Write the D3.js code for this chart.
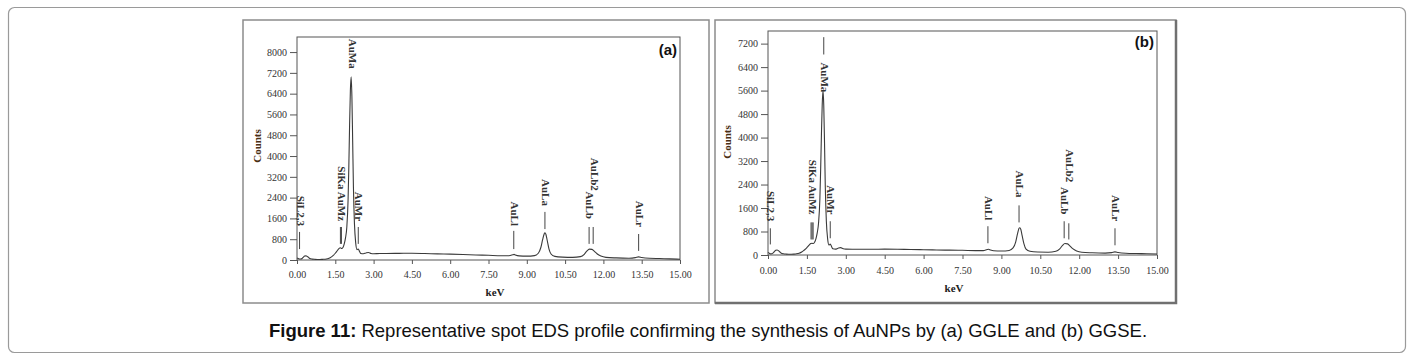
<!DOCTYPE html>
<html lang="en">
<head>
<meta charset="utf-8">
<title>EDS profile</title>
<script src="https://cdn.jsdelivr.net/npm/d3@7"></script>
<style>
  body { margin: 0; background: #fff; }
</style>
</head>
<body>
<script>

// energy axis shared by both spectra (keV)
var energy = [0.00, 0.05, 0.10, 0.15, 0.20, 0.25, 0.30, 0.35, 0.40, 0.45, 0.50, 0.60, 0.70, 0.80, 0.90,
    1.00, 1.10, 1.20, 1.30, 1.40, 1.50, 1.55, 1.60, 1.65, 1.70, 1.75, 1.80, 1.85, 1.90, 1.95,
    2.00, 2.03, 2.06, 2.09, 2.12, 2.15, 2.18, 2.21, 2.25, 2.30, 2.35, 2.40, 2.45, 2.50, 2.60,
    2.70, 2.80, 2.90, 3.00, 3.25, 3.50, 4.00, 4.50, 5.00, 5.50, 6.00, 6.50, 7.00, 7.50, 8.00,
    8.30, 8.45, 8.50, 8.55, 8.70, 9.00, 9.30, 9.45, 9.55, 9.62, 9.68, 9.71, 9.75, 9.80, 9.87,
    9.95, 10.10, 10.40, 10.80, 11.10, 11.25, 11.35, 11.45, 11.55, 11.65, 11.75, 11.90, 12.10, 12.50,
    13.00, 13.25, 13.38, 13.50, 13.80, 14.20, 14.60, 15.00];

// (a) GGLE
var countsGGLE = [80, 60, 40, 40, 60, 110, 150, 160, 140, 100, 60, 35, 25, 20, 20,
    25, 30, 50, 90, 160, 260, 320, 390, 450, 470, 440, 480, 620, 850, 1250,
    2300, 3600, 5200, 6500, 7050, 6300, 4600, 2800, 1400, 650, 400, 420, 330, 250, 240,
    270, 290, 250, 240, 250, 250, 255, 260, 250, 235, 225, 210, 195, 180, 165,
    165, 200, 215, 195, 160, 150, 170, 260, 480, 780, 1000, 1050, 980, 750, 420,
    230, 140, 110, 100, 130, 220, 340, 420, 410, 330, 240, 150, 100, 80,
    70, 90, 120, 95, 65, 55, 45, 30];

// (b) GGSE
var countsGGSE = [90, 60, 40, 45, 70, 120, 160, 170, 150, 110, 70, 40, 30, 25, 25,
    30, 40, 60, 100, 170, 250, 300, 350, 390, 400, 390, 440, 560, 760, 1100,
    1900, 2900, 4100, 5100, 5600, 5100, 3800, 2300, 1150, 550, 340, 370, 290, 210, 200,
    230, 250, 215, 200, 195, 195, 195, 200, 195, 185, 180, 170, 165, 160, 150,
    150, 185, 195, 180, 145, 135, 155, 240, 440, 720, 910, 930, 870, 660, 380,
    200, 125, 100, 95, 125, 210, 320, 390, 380, 300, 215, 140, 95, 75,
    65, 80, 105, 85, 60, 50, 45, 35];

var xTicks = [0, 1.5, 3, 4.5, 6, 7.5, 9, 10.5, 12, 13.5, 15];
var yTicksGGLE = [0, 800, 1600, 2400, 3200, 4000, 4800, 5600, 6400, 7200, 8000];
var yTicksGGSE = [0, 800, 1600, 2400, 3200, 4000, 4800, 5600, 6400, 7200];

// peak labels: [text, keV, label end (counts), marker keVs, marker top, marker bottom]
var peaksGGLE = [
    ["SiL2,3", 0.10, 1310, [0.10], 1080, 420],
    ["SiKa AuMz", 1.72, 1500, [1.70, 1.74], 1270, 620],
    ["AuMa", 2.14, 7360, [], 0, 0],
    ["AuMr", 2.40, 1500, [2.40], 1270, 620],
    ["AuLl", 8.49, 1310, [8.49], 1120, 420],
    ["AuLa", 9.71, 2080, [9.71], 1850, 1190],
    ["AuLb", 11.44, 1580, [11.44], 1270, 620],
    ["AuLb2", 11.64, 2660, [11.60], 1270, 620],
    ["AuLr", 13.38, 1270, [13.38], 1000, 350]
];
var peaksGGSE = [
    ["SiL2,3", 0.09, 1150, [0.09], 910, 360],
    ["SiKa AuMz", 1.70, 1380, [1.66, 1.70, 1.74], 1110, 530],
    ["AuMa", 2.15, 5540, [2.15], 7420, 6830],
    ["AuMr", 2.40, 1380, [2.40], 1150, 570],
    ["AuLl", 8.48, 1180, [8.48], 980, 400],
    ["AuLa", 9.68, 1960, [9.68], 1690, 1110],
    ["AuLb", 11.42, 1380, [11.42], 1150, 570],
    ["AuLb2", 11.62, 2480, [11.60], 1080, 530],
    ["AuLr", 13.38, 1150, [13.38], 910, 330]
];

var width = 1411;
var height = 361;
var serif = "'Liberation Serif', 'DejaVu Serif', serif";
var sans = "'Liberation Sans', Arial, sans-serif";

var svg = d3.select("body").append("svg")
    .attr("width", width)
    .attr("height", height);

// outer rounded box
svg.append("rect")
    .attr("x", 8.5).attr("y", 7.5)
    .attr("width", 1397).attr("height", 345)
    .attr("rx", 6)
    .attr("fill", "none")
    .attr("stroke", "#9a9a9a")
    .attr("stroke-width", 1.2);

function drawPanel(cfg, counts, yTicks, peaks) {
    var g = svg.append("g");

    // panel frame
    g.append("rect")
        .attr("x", cfg.frame[0]).attr("y", cfg.frame[1])
        .attr("width", cfg.frame[2]).attr("height", cfg.frame[3])
        .attr("fill", "#fff")
        .attr("stroke", "#8c8c8c")
        .attr("stroke-width", 1.5);
    if (cfg.shadow) {
        g.append("path")
            .attr("d", "M" + (cfg.frame[0] + cfg.frame[2]) + "," + cfg.frame[1] +
                "V" + (cfg.frame[1] + cfg.frame[3]) + "H" + cfg.frame[0])
            .attr("fill", "none")
            .attr("stroke", "#707070")
            .attr("stroke-width", 2.5);
    }

    var x = d3.scaleLinear().domain([0, 15]).range([cfg.left, cfg.right]);
    var y = d3.scaleLinear().domain([0, cfg.yMax]).range([cfg.bottom, cfg.top]);

    var xAxis = g.append("g")
        .attr("transform", "translate(0," + cfg.bottom + ")")
        .call(d3.axisBottom(x).tickValues(xTicks).tickSize(4).tickPadding(cfg.xPad)
            .tickFormat(d3.format(".2f")));
    var yAxis = g.append("g")
        .attr("transform", "translate(" + cfg.left + ",0)")
        .call(d3.axisLeft(y).tickValues(yTicks).tickSize(7).tickPadding(3)
            .tickFormat(d3.format("d")));

    [xAxis, yAxis].forEach(function (a) {
        a.select(".domain").remove();
        a.selectAll("line").attr("stroke", "#555");
        a.selectAll("text")
            .style("font-family", serif)
            .style("font-size", "10px")
            .attr("fill", "#333");
    });

    // plot box
    g.append("rect")
        .attr("x", cfg.left).attr("y", cfg.top)
        .attr("width", cfg.right - cfg.left).attr("height", cfg.bottom - cfg.top)
        .attr("fill", "none")
        .attr("stroke", "#555")
        .attr("stroke-width", 1);

    // spectrum
    var line = d3.line()
        .x(function (d, i) { return x(energy[i]); })
        .y(function (d) { return y(d); })
        .curve(d3.curveMonotoneX);

    g.append("path")
        .datum(counts)
        .attr("d", line)
        .attr("fill", "none")
        .attr("stroke", "#3a3a3a")
        .attr("stroke-width", 1.1);

    // peak markers and labels
    peaks.forEach(function (p) {
        p[3].forEach(function (k) {
            g.append("line")
                .attr("x1", x(k)).attr("x2", x(k))
                .attr("y1", y(p[4])).attr("y2", y(p[5]))
                .attr("stroke", "#444")
                .attr("stroke-width", 1);
        });
        g.append("text")
            .attr("transform", "translate(" + (x(p[1]) + 1) + "," + y(p[2]) + ") rotate(90)")
            .attr("text-anchor", "end")
            .attr("dy", "0.35em")
            .style("font-family", serif)
            .style("font-size", "11px")
            .style("font-weight", "bold")
            .attr("fill", "#333")
            .text(p[0]);
    });

    // axis titles
    g.append("text")
        .attr("x", cfg.keV[0]).attr("y", cfg.keV[1])
        .attr("text-anchor", "middle")
        .style("font-family", serif)
        .style("font-size", "11px")
        .style("font-weight", "bold")
        .attr("fill", "#222")
        .text("keV");
    g.append("text")
        .attr("transform", "translate(" + cfg.counts[0] + "," + cfg.counts[1] + ") rotate(-90)")
        .attr("text-anchor", "middle")
        .attr("dy", "0.35em")
        .style("font-family", serif)
        .style("font-size", "11px")
        .style("font-weight", "bold")
        .attr("fill", "#4a2e14")
        .text("Counts");

    // panel tag
    g.append("text")
        .attr("x", cfg.tag[0]).attr("y", cfg.tag[1])
        .attr("text-anchor", "end")
        .style("font-family", sans)
        .style("font-size", "15px")
        .style("font-weight", "bold")
        .attr("fill", "#111")
        .text(cfg.tagText);
}

drawPanel({
    frame: [243, 20, 466, 283], shadow: false,
    left: 297, right: 680, top: 37, bottom: 260, yMax: 8580, xPad: 7,
    keV: [495, 296], counts: [257, 146], tag: [677, 55], tagText: "(a)"
}, countsGGLE, yTicksGGLE, peaksGGLE);

drawPanel({
    frame: [715, 20, 461, 283], shadow: true,
    left: 768, right: 1157, top: 31, bottom: 255, yMax: 7630, xPad: 8,
    keV: [954, 292], counts: [727, 142], tag: [1154, 47], tagText: "(b)"
}, countsGGSE, yTicksGGSE, peaksGGSE);

// caption
var caption = svg.append("text")
    .attr("x", 708).attr("y", 337)
    .attr("text-anchor", "middle")
    .style("font-family", sans)
    .style("font-size", "18.5px")
    .attr("fill", "#111");
caption.append("tspan").style("font-weight", "bold").text("Figure 11:");
caption.append("tspan").text(" Representative spot EDS profile confirming the synthesis of AuNPs by (a) GGLE and (b) GGSE.");

</script>
</body>
</html>
